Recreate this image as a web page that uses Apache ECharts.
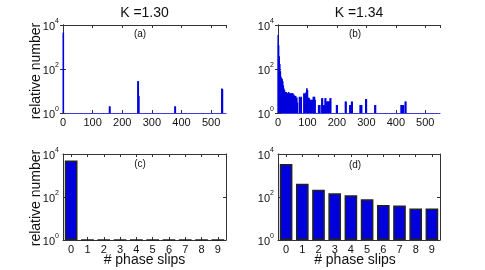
<!DOCTYPE html>
<html>
<head>
<meta charset="utf-8">
<script src="https://cdn.jsdelivr.net/npm/echarts@6/dist/echarts.min.js"></script>
<style>
html,body{margin:0;padding:0;background:#fff;}
#c{width:485px;height:270px;}
</style>
</head>
<body>
<div id="c"></div>
<script>
// ---- data ----
const titles = ['K =1.30', 'K =1.34'];
const panelLabels = ['(a)', '(b)', '(c)', '(d)'];
const yName = 'relative number';
const xName = '# phase slips';

// panel (a): histogram bins (x) and counts
const aX = [0, 1, 157, 158, 253, 254, 256, 378, 379, 536, 538];
const aY = [4500, 4500, 2, 2, 28, 28, 6, 2, 2, 13, 12];

// panel (b): histogram bins (x) and counts
const bX = [0, 2, 4, 6, 8, 10, 12, 14, 16, 18, 20, 22, 24, 26, 28, 30, 32, 34, 36, 38, 40, 42, 44, 46, 48, 50, 52, 54, 56, 58, 60, 62, 64, 66,
            73, 75, 79, 88, 90, 92, 94, 96, 98, 100, 102, 104, 106, 108, 110, 112, 114, 116, 118, 120, 122, 124, 126,
            138, 140, 142, 149, 151, 155, 157, 160, 162, 166, 168, 170, 172, 174, 177, 179,
            199, 201, 229, 231, 244, 246, 250, 252, 279, 281, 284, 298, 300, 329, 331, 418, 420, 422, 424, 426, 432, 434];
const bY = [3500, 1200, 380, 170, 80, 45, 38, 35, 28, 18, 13, 11, 9, 8, 9, 7, 8, 6, 9, 8, 7, 8, 6, 8, 7, 8, 5, 7, 6, 5, 6, 4, 5, 3,
            5.5, 5, 5.5, 7.8, 7, 8, 6, 9, 13.3, 11, 4.7, 5, 4.7, 4, 3.9, 4, 3.9, 4, 3.9, 5.5, 4.5, 5.5, 3.9,
            2.3, 2.3, 2.3, 4.7, 4.7, 2.3, 2.3, 4.7, 4.7, 3.3, 3.3, 3.3, 3.3, 3.3, 4.7, 4.7,
            2.3, 2.3, 3.3, 3.3, 2.3, 2.3, 3.3, 3.3, 2.3, 2.3, 2.3, 4.3, 4.3, 2.3, 2.3, 2.3, 2.3, 2.3, 2.3, 2.3, 3.3, 3.3];

// panels (c),(d): number of phase slips
const slips = ['0', '1', '2', '3', '4', '5', '6', '7', '8', '9'];
const cY = [5000, 1, 1, 1, 1, 1, 1, 1, 1, 1];
const dY = [3400, 415, 218, 148, 120, 78, 43, 40, 29, 29];

// x ticks for histograms
const xMin = 0, xMax = 550, xInterval = 100;
// log y axis
const yMin = 1, yMax = 10000;

// ---- layout ----
const FONT = 'Liberation Sans, Arial, sans-serif';
const grids = [
  {left: 63, top: 25, width: 163, height: 88},
  {left: 278, top: 25, width: 162, height: 88},
  {left: 63, top: 154, width: 163, height: 86},
  {left: 278, top: 154, width: 162, height: 86}
];
const blue = '#0000dd';
const axisCol = '#333';

const xAxes = [], yAxes = [];
grids.forEach((g, i) => {
  const isHist = i < 2;
  const common = isHist ? {type: 'value', min: xMin, max: xMax, interval: xInterval}
                        : {type: 'category', data: slips};
  xAxes.push(Object.assign({}, common, {
    gridIndex: i, position: 'bottom',
    axisLine: {show: true, lineStyle: {color: isHist ? '#3a3ae0' : axisCol, width: 1}},
    axisTick: {show: true, inside: true, length: 3, alignWithLabel: true, lineStyle: {color: axisCol}},
    axisLabel: {show: true, color: '#111', fontFamily: FONT, fontSize: 11, margin: 4, showMaxLabel: isHist ? false : true},
    splitLine: {show: false}
  }));
  xAxes.push(Object.assign({}, common, {
    gridIndex: i, position: 'top',
    axisLine: {show: true, lineStyle: {color: axisCol, width: 1}},
    axisTick: {show: true, inside: true, length: 3, alignWithLabel: true, lineStyle: {color: axisCol}},
    axisLabel: {show: false},
    splitLine: {show: false}
  }));
  const ycommon = {type: 'log', logBase: 10, min: yMin, max: yMax, interval: 2};
  yAxes.push(Object.assign({}, ycommon, {
    gridIndex: i, position: 'left',
    axisLine: {show: true, lineStyle: {color: axisCol, width: 1}},
    axisTick: {show: true, inside: true, length: 3, lineStyle: {color: axisCol}},
    axisLabel: {
      show: true, margin: 4, color: '#111', fontFamily: FONT,
      formatter: v => {
        const e = Math.round(Math.log10(v));
        if (e % 2 !== 0) return '';
        return '{b|10}{s|' + e + '}';
      },
      rich: {
        b: {fontSize: 11, fontFamily: FONT, color: '#111', lineHeight: 14, verticalAlign: 'bottom'},
        s: {fontSize: 7, fontFamily: FONT, color: '#111', lineHeight: 14, verticalAlign: 'top'}
      }
    },
    splitLine: {show: false},
    minorTick: {show: false}
  }));
  yAxes.push(Object.assign({}, ycommon, {
    gridIndex: i, position: 'right',
    axisLine: {show: true, lineStyle: {color: axisCol, width: 1}},
    axisTick: {show: true, inside: true, length: 3, lineStyle: {color: axisCol}},
    axisLabel: {show: false},
    splitLine: {show: false}
  }));
});

const pairs = (xs, ys) => xs.map((x, k) => [x, ys[k]]);

const series = [
  {type: 'bar', xAxisIndex: 0, yAxisIndex: 0, data: pairs(aX, aY), barWidth: 1.6,
   itemStyle: {color: blue}, animation: false, silent: true},
  {type: 'bar', xAxisIndex: 2, yAxisIndex: 2, data: pairs(bX, bY), barWidth: 1.6,
   itemStyle: {color: blue}, animation: false, silent: true},
  {type: 'bar', xAxisIndex: 4, yAxisIndex: 4, data: cY, barCategoryGap: '22%',
   itemStyle: {color: blue, borderColor: '#222', borderWidth: 1.5}, animation: false, silent: true},
  {type: 'bar', xAxisIndex: 6, yAxisIndex: 6, data: dY, barCategoryGap: '22%',
   itemStyle: {color: blue, borderColor: '#222', borderWidth: 1.5}, animation: false, silent: true}
];

const txt = (x, y, text, size, extra) => Object.assign({
  type: 'text', x: x, y: y,
  style: {text: text, fill: '#111', font: size + 'px ' + FONT, textAlign: 'center', textVerticalAlign: 'middle'}
}, extra || {});

const graphic = [
  txt(144.5, 13, titles[0], 14),
  txt(359, 13, titles[1], 14),
  txt(140, 34, panelLabels[0], 10),
  txt(355, 34, panelLabels[1], 10),
  txt(140, 164, panelLabels[2], 10),
  txt(355, 165, panelLabels[3], 10),
  txt(36, 71, yName, 14, {rotation: Math.PI / 2}),
  txt(36, 198, yName, 14, {rotation: Math.PI / 2}),
  txt(144.5, 260, xName, 14),
  txt(355, 260, xName, 14)
];

const chart = echarts.init(document.getElementById('c'), null, {renderer: 'canvas'});
chart.setOption({
  animation: false,
  grid: grids,
  xAxis: xAxes,
  yAxis: yAxes,
  series: series,
  graphic: graphic
});
</script>
</body>
</html>
